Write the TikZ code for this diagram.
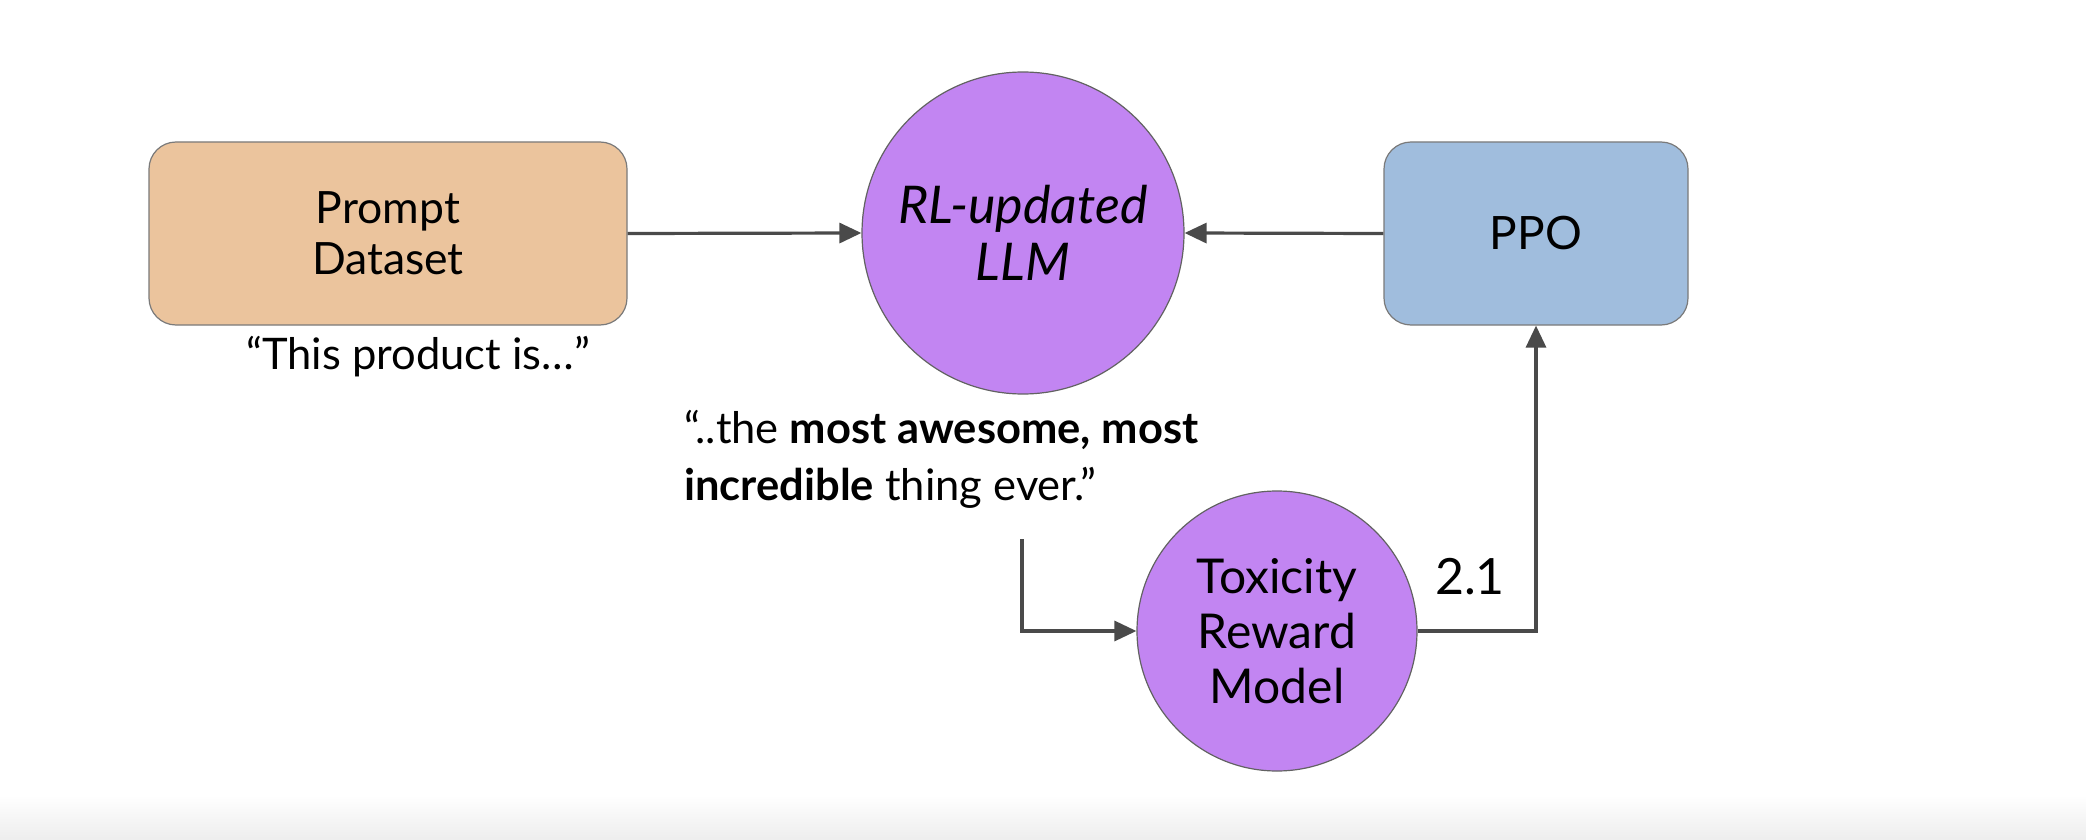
\documentclass[tikz,border=0pt]{standalone}
\usepackage{fontspec}
\setmainfont{Lato}
\usetikzlibrary{arrows.meta}
\definecolor{peach}{HTML}{EBC49D}
\definecolor{ppoblue}{HTML}{A0BDDD}
\definecolor{llmpurple}{HTML}{C285F2}
\definecolor{edgegray}{HTML}{7A7A7A}
\definecolor{arrowgray}{HTML}{4A4A4A}
\begin{document}
\begin{tikzpicture}[x=1pt,y=-1pt,
  box/.style={draw=edgegray, line width=1.2pt, rounded corners=27pt, align=center, inner sep=0pt,
    font=\fontsize{44.5}{51}\selectfont},
  bubble/.style={circle, draw=edgegray!80!black, line width=1.2pt, fill=llmpurple, inner sep=0pt, align=center},
  arr/.style={draw=arrowgray, line width=3.2pt, -{Triangle[length=22pt,width=20pt]}},
  plain/.style={inner sep=0pt, font=\fontsize{43.5}{57}\selectfont}
]
\useasboundingbox (0,0) rectangle (2086,840);
\fill[white] (0,0) rectangle (2086,840);
\shade[top color=white, bottom color=black!7] (0,795) rectangle (2086,840);

\node[box, fill=peach, minimum width=478pt, minimum height=183pt] (pd) at (388,233.5) {Prompt\\Dataset};
\node[box, fill=ppoblue, minimum width=304pt, minimum height=183pt, font=\fontsize{46}{51}\selectfont] (ppo) at (1536,233.5) {PPO};
\node[bubble, minimum size=322pt, font=\fontsize{52}{57}\selectfont\itshape] (llm) at (1023,233) {RL-updated\\LLM};
\node[bubble, minimum size=280pt, font=\fontsize{48}{55}\selectfont] (tox) at (1277,631) {Toxicity\\Reward\\Model};

\node[plain] (q1) at (418,357) {“This product is…”};
\node[plain, anchor=north west, align=left] (resp) at (684,410)
  {“..the \textbf{most awesome, most}\\\textbf{incredible} thing ever.”};
\node[plain, font=\fontsize{50}{57}\selectfont] (score) at (1470,577) {2.1};

\coordinate (c1) at (1022,539);
\draw[arr] (pd.east) -- (llm.west);
\draw[arr] (ppo.west) -- (llm.east);
\draw[arr] (c1) |- (tox.west);
\draw[arr] (tox.east) -| (ppo.south);
\end{tikzpicture}
\end{document}
